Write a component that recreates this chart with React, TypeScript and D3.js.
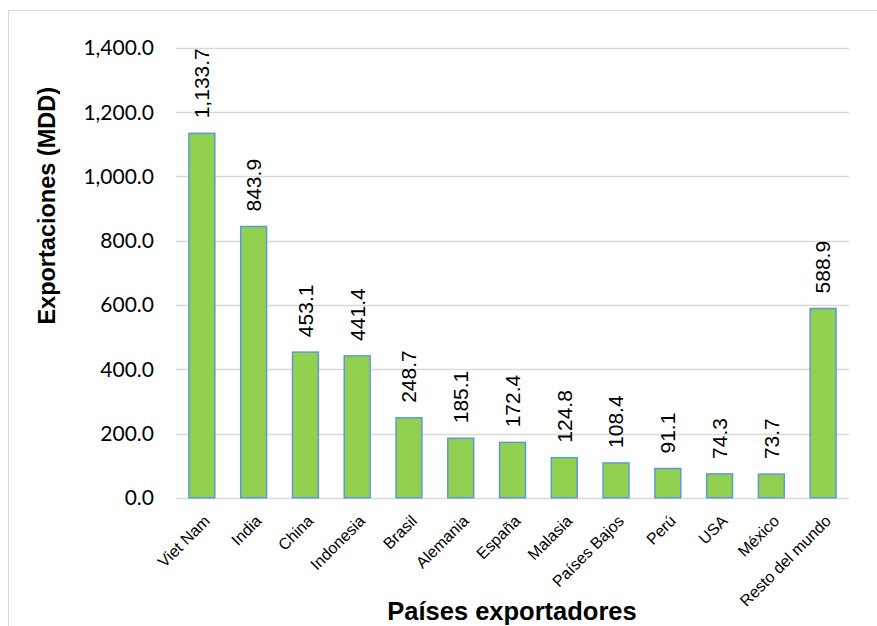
import React from "react";
import * as d3 from "d3";

const categories = ["Viet Nam", "India", "China", "Indonesia", "Brasil", "Alemania", "España", "Malasia", "Países Bajos", "Perú", "USA", "México", "Resto del mundo"];
const values = [1133.7, 843.9, 453.1, 441.4, 248.7, 185.1, 172.4, 124.8, 108.4, 91.1, 74.3, 73.7, 588.9];
const yTicks = [0, 200, 400, 600, 800, 1000, 1200, 1400];

const W = 877;
const H = 626;

export default function App() {
  const x = d3.scaleBand<string>().domain(categories).range([176, 849]).paddingInner(0.5).paddingOuter(0.25);
  const y = d3.scaleLinear().domain([0, 1400]).range([497.8, 47.7]);
  const fmt = d3.format(",.1f");

  return (
    <svg width={W} height={H} style={{ position: "absolute", left: 0, top: 0, background: "#fff" }}>
      <rect x={8.5} y={10.5} width={900} height={700} fill="#fff" stroke="#d9d9d9" strokeWidth={1} />
      {yTicks.map((t) => (
        <g key={t}>
          <line x1={176} x2={849} y1={Math.round(y(t)) + 0.5} y2={Math.round(y(t)) + 0.5} stroke="#d9d9d9" strokeWidth={1.3} />
          <text x={154} y={y(t)} dy="0.36em" textAnchor="end" fontFamily="Lato" fontSize={21} fill="#000">
            {fmt(t)}
          </text>
        </g>
      ))}
      {categories.map((c, i) => {
        const bx = x(c)!;
        const bw = x.bandwidth();
        const cx = bx + bw / 2;
        const top = y(values[i]);
        return (
          <g key={c}>
            <rect x={bx} y={top} width={bw} height={y(0) - top} fill="#92d050" stroke="#5b9bd5" strokeWidth={1.5} />
            <text transform={`translate(${cx},${top - 15}) rotate(-90)`} dy="0.35em" textAnchor="start" fontFamily="Liberation Sans, Arial" fontSize={21} fill="#000">
              {fmt(values[i])}
            </text>
            <text transform={`translate(${cx + 5},${518}) rotate(-45)`} dy="0.35em" textAnchor="end" fontFamily="Liberation Sans, Arial" fontSize={16} fill="#000">
              {c}
            </text>
          </g>
        );
      })}
      <text transform={`translate(46.4,205.8) rotate(-90)`} dy="0.35em" textAnchor="middle" fontFamily="Liberation Sans, Arial" fontWeight="bold" fontSize={23.5} fill="#000">
        Exportaciones (MDD)
      </text>
      <text x={512} y={619.5} textAnchor="middle" fontFamily="Liberation Sans, Arial" fontWeight="bold" fontSize={25.5} fill="#000">
        Países exportadores
      </text>
    </svg>
  );
}
